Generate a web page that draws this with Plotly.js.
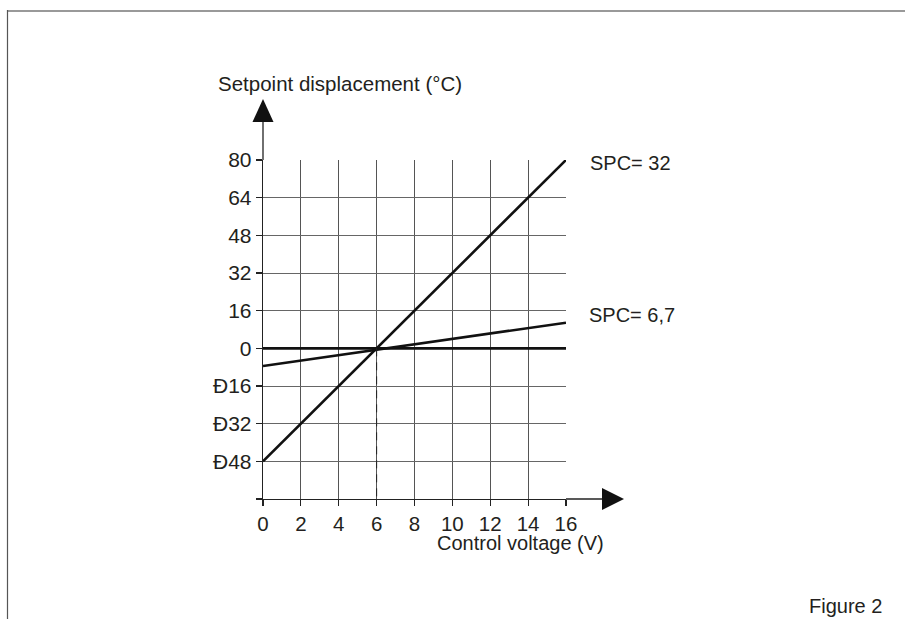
<!DOCTYPE html>
<html>
<head>
<meta charset="utf-8">
<script src="https://cdn.plot.ly/plotly-3.0.1.min.js"></script>
<style>
html,body{margin:0;padding:0;background:#fff;}
#chart{width:905px;height:619px;}
</style>
</head>
<body>
<div id="chart"></div>
<script>
// Data
const voltage = [0, 16];
const spc32 = [-48, 80];
const spc67 = [-7.5, 10.9];
const spc0 = [0, 0];
const crossX = [6, 6];
const crossY = [0, -64];
const xTicks = [0, 2, 4, 6, 8, 10, 12, 14, 16];
const xTickText = ['0', '2', '4', '6', '8', '10', '12', '14', '16'];
const yTicks = [-64, -48, -32, -16, 0, 16, 32, 48, 64, 80];
const yTickText = ['', 'Đ48', 'Đ32', 'Đ16', '0', '16', '32', '48', '64', '80'];
const lineLabels = ['SPC= 32', 'SPC= 6,7'];
const lineLabelY = [80, 16];

const W = 905, H = 619;
const L = 263, R = 566, T = 160, B = 499;
const px = v => (v - L) / (R - L);
const py = v => (B - v) / (B - T);

const FONT = 'Liberation Sans, Arial, sans-serif';
const TXT = '#231f20';

const traces = [
  {x: voltage, y: spc0, mode: 'lines', line: {color: '#111', width: 2.6}, hoverinfo: 'skip'},
  {x: voltage, y: spc67, mode: 'lines', line: {color: '#111', width: 2.6}, hoverinfo: 'skip'},
  {x: voltage, y: spc32, mode: 'lines', line: {color: '#111', width: 2.6}, hoverinfo: 'skip'},
  {x: crossX, y: crossY, mode: 'lines', line: {color: '#222', width: 1, dash: '8px,6px'}, hoverinfo: 'skip'}
];

const shapes = [
  // page frame
  {type: 'line', xref: 'paper', yref: 'paper', x0: px(7), x1: px(905), y0: py(11), y1: py(11), line: {color: '#999', width: 2}},
  {type: 'line', xref: 'paper', yref: 'paper', x0: px(7.5), x1: px(7.5), y0: py(10), y1: py(619), line: {color: '#555', width: 1.2}},
  // axis extensions
  {type: 'line', xref: 'paper', yref: 'paper', x0: 0, x1: 0, y0: 1, y1: py(122), line: {color: '#222', width: 1.3}},
  {type: 'line', xref: 'paper', yref: 'paper', x0: 1, x1: px(603), y0: 0, y1: 0, line: {color: '#222', width: 1.3}},
  // arrow heads
  {type: 'path', xref: 'paper', yref: 'paper',
   path: `M ${px(263)} ${py(99)} L ${px(252.5)} ${py(122)} L ${px(273.5)} ${py(122)} Z`,
   fillcolor: '#111', line: {color: '#111', width: 0}},
  {type: 'path', xref: 'paper', yref: 'paper',
   path: `M ${px(624)} ${py(499)} L ${px(602)} ${py(488)} L ${px(602)} ${py(510)} Z`,
   fillcolor: '#111', line: {color: '#111', width: 0}}
];

const annotations = [
  {xref: 'paper', yref: 'paper', x: px(216), y: py(84), xanchor: 'left', yanchor: 'middle', showarrow: false,
   text: 'Setpoint displacement (°C)', font: {family: FONT, size: 20.5, color: TXT}},
  {xref: 'paper', yref: 'paper', x: px(520), y: py(543), xanchor: 'center', yanchor: 'middle', showarrow: false,
   text: 'Control voltage (V)', font: {family: FONT, size: 20, color: TXT}},
  {xref: 'paper', yref: 'paper', x: px(807), y: py(606), xanchor: 'left', yanchor: 'middle', showarrow: false,
   text: 'Figure 2', font: {family: FONT, size: 20, color: TXT}},
  {xref: 'paper', yref: 'y', x: px(588), y: lineLabelY[0], yshift: -3, xanchor: 'left', yanchor: 'middle', showarrow: false,
   text: lineLabels[0], font: {family: FONT, size: 20, color: TXT}},
  {xref: 'paper', yref: 'y', x: px(587), y: lineLabelY[1], yshift: -4, xanchor: 'left', yanchor: 'middle', showarrow: false,
   text: lineLabels[1], font: {family: FONT, size: 20, color: TXT}}
];

const layout = {
  width: W, height: H,
  margin: {l: L, r: W - R, t: T, b: H - B, pad: 0},
  paper_bgcolor: '#fff', plot_bgcolor: '#fff',
  showlegend: false,
  xaxis: {
    range: [0, 16], tickmode: 'array', tickvals: xTicks, ticktext: xTickText,
    ticks: 'outside', ticklen: 6, tickwidth: 1.2, tickcolor: '#222',
    showgrid: true, gridcolor: '#555', gridwidth: 1, zeroline: false,
    showline: true, linecolor: '#222', linewidth: 1.3,
    tickfont: {family: FONT, size: 20.5, color: TXT}, fixedrange: true
  },
  yaxis: {
    range: [-64, 80], tickmode: 'array', tickvals: yTicks, ticktext: yTickText,
    ticks: 'outside', ticklen: 6, tickwidth: 1.2, tickcolor: '#222',
    showgrid: true, gridcolor: '#666', gridwidth: 1, zeroline: false,
    showline: true, linecolor: '#222', linewidth: 1.3,
    tickfont: {family: FONT, size: 21, color: TXT}, fixedrange: true
  },
  shapes: shapes,
  annotations: annotations
};

Plotly.newPlot('chart', traces, layout, {displayModeBar: false, staticPlot: true});
</script>
</body>
</html>
